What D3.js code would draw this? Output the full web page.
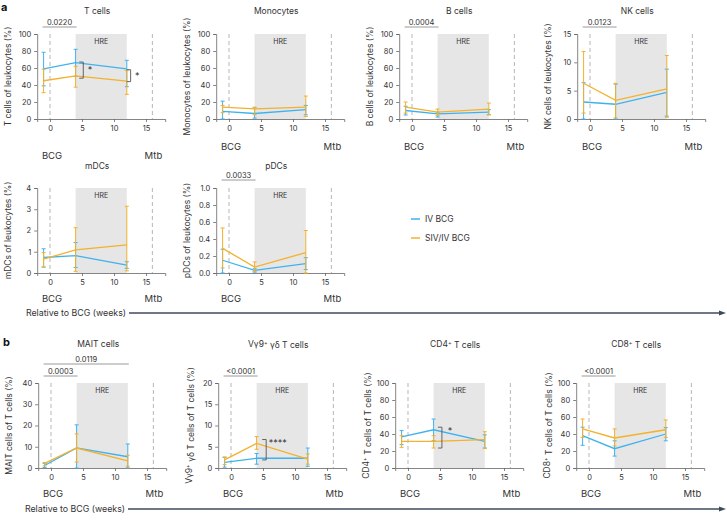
<!DOCTYPE html>
<html><head><meta charset="utf-8">
<script src="https://cdn.jsdelivr.net/npm/d3@7"></script>
<style>body{margin:0;background:#fff;} svg{display:block;font-family:Inter,"Noto Sans",sans-serif;}</style>
</head><body><svg id="c" width="727" height="520"></svg>
<script>
// ---------- data ----------
const weeks = [-1, 4, 12];
const xTicks = [0, 5, 10, 15];
const seriesNames = ["IV BCG", "SIV/IV BCG"];
const markerLabels = ["BCG", "Mtb"];
const markerWeeks = [0, 16];
const hreWeeks = [4, 12];

const tIV = [59, 66.4, 59], tIVLo = [39, 50, 38], tIVHi = [78.5, 82, 69];
const tSIV = [45, 50.8, 44.5], tSIVLo = [31, 37.5, 29], tSIVHi = [58.6, 62, 57];

const monoIV = [9, 6.5, 11], monoIVLo = [0, 1, 5], monoIVHi = [21, 13, 16];
const monoSIV = [14, 12, 14], monoSIVLo = [7.5, 5, 3], monoSIVHi = [16, 14, 27];

const bIV = [10, 6, 8], bIVLo = [4.7, 2.3, 5], bIVHi = [15, 8, 11];
const bSIV = [14, 8.2, 11.7], bSIVLo = [7, 4, 5], bSIVHi = [20, 11.7, 18.7];

const nkIV = [3.0, 2.6, 4.7], nkIVLo = [0, 0, 0.5], nkIVHi = [6.4, 6.15, 8.8];
const nkSIV = [6.3, 3.3, 5.3], nkSIVLo = [1.05, 0.2, 0.3], nkSIVHi = [11.9, 6.3, 11.2];

const mdcIV = [0.73, 0.82, 0.37], mdcIVLo = [0.28, 0.26, 0.22], mdcIVHi = [1.14, 1.43, 0.53];
const mdcSIV = [0.65, 1.09, 1.32], mdcSIVLo = [0.28, 0.08, 0.1], mdcSIVHi = [0.96, 2.13, 3.14];

const pdcIV = [0.15, 0.03, 0.11], pdcIVLo = [0, 0.01, 0.04], pdcIVHi = [0.28, 0.05, 0.18];
const pdcSIV = [0.29, 0.07, 0.24], pdcSIVLo = [0.06, 0.02, 0.0], pdcSIVHi = [0.53, 0.13, 0.5];

const maitIV = [1.2, 9.5, 5.3], maitIVLo = [0.2, 0, 0], maitIVHi = [2.2, 20.3, 11.3];
const maitSIV = [2.2, 9.4, 3.3], maitSIVLo = [1.0, 2.8, 0.8], maitSIVHi = [2.6, 16, 6];

const gdIV = [1.3, 2.3, 2.3], gdIVLo = [0.2, 0.9, 0.4], gdIVHi = [2.5, 3.4, 4.7];
const gdSIV = [1.9, 5.8, 2.1], gdSIVLo = [0.8, 4.4, 0.9], gdSIVHi = [2.6, 7.4, 3.3];

const cd4IV = [36.5, 45, 31.4], cd4IVLo = [27.5, 32, 23.5], cd4IVHi = [44, 57.6, 39];
const cd4SIV = [31.4, 31.4, 33.3], cd4SIVLo = [24.3, 23.5, 23], cd4SIVHi = [38, 38, 42.7];

const cd8IV = [38, 22.7, 40], cd8IVLo = [26.7, 14, 32], cd8IVHi = [48, 32, 47.5];
const cd8SIV = [45.9, 35.3, 45], cd8SIVLo = [36, 26, 36], cd8SIVHi = [57.6, 46, 56.5];

const ticks100 = [0, 20, 40, 60, 80, 100];
const ticks15 = [0, 5, 10, 15];
const ticks4 = [0, 1, 2, 3, 4];
const ticks1 = [0, 0.2, 0.4, 0.6, 0.8, 1.0];
const ticks40 = [0, 10, 20, 30, 40];
const ticks20 = [0, 5, 10, 15, 20];

// ---------- panels ----------
const panels = [
  {title:"T cells", ylab:"T cells of leukocytes (%)", left:37.2, top:34, ymax:100, yt:ticks100, fmt:"d", markOff:36,
   iv:[tIV,tIVLo,tIVHi], siv:[tSIV,tSIVLo,tSIVHi],
   pv:[{a:-1,b:4,label:"0.0220",ly:27}],
   br:[{w:5.2,y1:67,y2:48,label:"*",lw:5.9,ly:60},{w:12.6,y1:58,y2:44,label:"*",lw:13.3,ly:53}]},
  {title:"Monocytes", ylab:"Monocytes of leukocytes (%)", left:216.2, top:34, ymax:100, yt:ticks100, fmt:"d", markOff:27,
   iv:[monoIV,monoIVLo,monoIVHi], siv:[monoSIV,monoSIVLo,monoSIVHi], pv:[], br:[]},
  {title:"B cells", ylab:"B cells of leukocytes (%)", left:399.2, top:34, ymax:100, yt:ticks100, fmt:"d", markOff:27,
   iv:[bIV,bIVLo,bIVHi], siv:[bSIV,bSIVLo,bSIVHi], pv:[{a:-1,b:4,label:"0.0004",ly:27}], br:[]},
  {title:"NK cells", ylab:"NK cells of leukocytes (%)", left:577.2, top:34, ymax:15, yt:ticks15, fmt:"d", markOff:27,
   iv:[nkIV,nkIVLo,nkIVHi], siv:[nkSIV,nkSIVLo,nkSIVHi], pv:[{a:-1,b:4,label:"0.0123",ly:27}], br:[]},
  {title:"mDCs", ylab:"mDCs of leukocytes (%)", left:37.2, top:188, ymax:4, yt:ticks4, fmt:"d", markOff:25,
   iv:[mdcIV,mdcIVLo,mdcIVHi], siv:[mdcSIV,mdcSIVLo,mdcSIVHi], pv:[], br:[]},
  {title:"pDCs", ylab:"pDCs of leukocytes (%)", left:216.2, top:188, ymax:1, yt:ticks1, fmt:".1f", markOff:25,
   iv:[pdcIV,pdcIVLo,pdcIVHi], siv:[pdcSIV,pdcSIVLo,pdcSIVHi], pv:[{a:-1,b:4,label:"0.0033",ly:180}], br:[]},
  {title:"MAIT cells", ylab:"MAIT cells of T cells (%)", left:38.2, top:383, ymax:40, yt:ticks40, fmt:"d", markOff:25,
   iv:[maitIV,maitIVLo,maitIVHi], siv:[maitSIV,maitSIVLo,maitSIVHi],
   pv:[{a:-1,b:12,label:"0.0119",ly:364},{a:-1,b:4,label:"0.0003",ly:376}], br:[]},
  {title:"Vγ9⁺ γδ T cells", ylab:"Vγ9⁺ γδ T cells of T cells (%)", left:218.2, top:383, ymax:20, yt:ticks20, fmt:"d", markOff:25,
   iv:[gdIV,gdIVLo,gdIVHi], siv:[gdSIV,gdSIVLo,gdSIVHi], pv:[{a:-1,b:4,label:"<0.0001",ly:376}],
   br:[{w:5.5,y1:6.7,y2:1.9,label:"****",lw:5.9,ly:6.4,anchor:"start"}]},
  {title:"CD4⁺ T cells", ylab:"CD4⁺ T cells of T cells (%)", left:395.2, top:383, ymax:100, yt:ticks100, fmt:"d", markOff:25,
   iv:[cd4IV,cd4IVLo,cd4IVHi], siv:[cd4SIV,cd4SIVLo,cd4SIVHi], pv:[],
   br:[{w:5.3,y1:48,y2:23.5,label:"*",lw:6.2,ly:46}]},
  {title:"CD8⁺ T cells", ylab:"CD8⁺ T cells of T cells (%)", left:576.2, top:383, ymax:100, yt:ticks100, fmt:"d", markOff:25,
   iv:[cd8IV,cd8IVLo,cd8IVHi], siv:[cd8SIV,cd8SIVLo,cd8SIVHi], pv:[{a:-1,b:4,label:"<0.0001",ly:376}], br:[]}
];
const titleY = {34:11, 188:166, 383:344};
const colors = ["#3fb2ee", "#f3b12c"];
const W = 128, H = 85;
const svg = d3.select("#c");
const TXT = "#333";

function rich(sel, str, supSize) {
  const parts = str.split("⁺");
  parts.forEach((p, i) => {
    if (i > 0) sel.append("tspan").attr("dy", "-0.45em").attr("font-size", supSize).text("+");
    const t = sel.append("tspan").text(p);
    if (i > 0) t.attr("dy", "0.45em");
  });
}

panels.forEach(p => {
  const x = d3.scaleLinear().domain([-2, 18]).range([p.left, p.left + W]);
  const y = d3.scaleLinear().domain([0, p.ymax]).range([p.top + H, p.top]);
  const g = svg.append("g");
  // HRE
  g.append("rect").attr("x", x(hreWeeks[0])).attr("y", y(p.ymax)).attr("width", x(hreWeeks[1]) - x(hreWeeks[0]))
    .attr("height", y(0) - y(p.ymax)).attr("fill", "#e6e6e6");
  g.append("text").attr("x", (x(hreWeeks[0]) + x(hreWeeks[1])) / 2).attr("y", y(p.ymax) + 10)
    .attr("text-anchor", "middle").attr("font-size", 7).attr("fill", TXT).text("HRE");
  // dashed markers
  markerWeeks.forEach(w => g.append("line").attr("x1", x(w)).attr("x2", x(w)).attr("y1", y(p.ymax)).attr("y2", y(0))
    .attr("stroke", "#bdbdbd").attr("stroke-width", 1.1).attr("stroke-dasharray", "4,3"));
  markerWeeks.forEach((w, i) => g.append("text").attr("x", x(w) + (i === 0 ? 2 : 1)).attr("y", y(0) + p.markOff + 3.5)
    .attr("text-anchor", "middle").attr("font-size", 9.5).attr("fill", TXT).text(markerLabels[i]));
  // axes
  const ya = g.append("g").attr("transform", `translate(${p.left},0)`)
    .call(d3.axisLeft(y).tickValues(p.yt).tickSize(3).tickPadding(3).tickFormat(d3.format(p.fmt)));
  const xa = g.append("g").attr("transform", `translate(0,${p.top + H})`)
    .call(d3.axisBottom(x).tickValues(xTicks).tickSize(3).tickPadding(4).tickFormat(d3.format("d")));
  [ya, xa].forEach(a => {
    a.select(".domain").attr("stroke", "#666").attr("stroke-width", 0.8);
    a.selectAll(".tick line").attr("stroke", "#666").attr("stroke-width", 0.8);
    a.selectAll("text").attr("font-size", 7.5).attr("fill", TXT).attr("font-family", "Inter,'Noto Sans',sans-serif");
  });
  // title
  const tt = g.append("text").attr("x", p.left + W / 2 - 4).attr("y", titleY[p.top] + 3).attr("text-anchor", "middle")
    .attr("font-size", 8.5).attr("fill", TXT);
  rich(tt, p.title, 5.5);
  // y label
  const yl = g.append("text").attr("transform", `translate(${p.left - 29},${p.top + H / 2}) rotate(-90)`)
    .attr("text-anchor", "middle").attr("dy", "0.35em").attr("font-size", 8.5).attr("fill", TXT);
  rich(yl, p.ylab, 5.5);
  // series
  [p.iv, p.siv].forEach((s, si) => {
    const [m, lo, hi] = s;
    const pts = weeks.map((w, i) => ({w, m: m[i], lo: lo[i], hi: hi[i]}));
    pts.forEach(d => {
      const eg = g.append("g").attr("stroke", colors[si]).attr("stroke-width", 1);
      eg.append("line").attr("x1", x(d.w)).attr("x2", x(d.w)).attr("y1", y(d.lo)).attr("y2", y(d.hi));
      [d.lo, d.hi].forEach(v => eg.append("line").attr("x1", x(d.w) - 2).attr("x2", x(d.w) + 2).attr("y1", y(v)).attr("y2", y(v)));
    });
    g.append("path").datum(pts).attr("fill", "none").attr("stroke", colors[si]).attr("stroke-width", 1.3)
      .attr("d", d3.line().x(d => x(d.w)).y(d => y(d.m)));
  });
  // p-value bars
  p.pv.forEach(v => {
    g.append("line").attr("x1", x(v.a) - 1).attr("x2", x(v.b) + 1).attr("y1", v.ly).attr("y2", v.ly)
      .attr("stroke", "#9a9a9a").attr("stroke-width", 1);
    g.append("text").attr("x", (x(v.a) + x(v.b)) / 2).attr("y", v.ly - 2.5).attr("text-anchor", "middle")
      .attr("font-size", 7.5).attr("fill", TXT).text(v.label);
  });
  // brackets
  p.br.forEach(b => {
    const bx = x(b.w);
    g.append("path").attr("fill", "none").attr("stroke", "#555").attr("stroke-width", 0.9)
      .attr("d", `M${bx - 4},${y(b.y1)}H${bx}V${y(b.y2)}H${bx - 4}`);
    g.append("text").attr("x", x(b.lw)).attr("y", y(b.ly) + 5).attr("text-anchor", b.anchor || "start")
      .attr("font-size", 9).attr("fill", TXT).text(b.label);
  });
});

// panel letters
svg.append("text").attr("x", 1).attr("y", 11).attr("font-size", 11).attr("font-weight", "bold").attr("fill", "#111").text("a");
svg.append("text").attr("x", 3).attr("y", 346).attr("font-size", 11).attr("font-weight", "bold").attr("fill", "#111").text("b");

// legend
seriesNames.forEach((n, i) => {
  const ly = 219 + i * 19;
  svg.append("line").attr("x1", 411).attr("x2", 420).attr("y1", ly).attr("y2", ly).attr("stroke", colors[i]).attr("stroke-width", 1.5);
  svg.append("text").attr("x", 425).attr("y", ly).attr("dy", "0.35em").attr("font-size", 8.5).attr("fill", TXT).text(n);
});

// time arrows
[{y: 313, x0: 129}, {y: 509, x0: 128}].forEach(a => {
  svg.append("text").attr("x", a.x0 - 3).attr("y", a.y).attr("dy", "0.35em").attr("text-anchor", "end")
    .attr("font-size", 8.8).attr("fill", TXT).text("Relative to BCG (weeks)");
  svg.append("line").attr("x1", a.x0).attr("x2", 720).attr("y1", a.y).attr("y2", a.y).attr("stroke", "#3c4a5e").attr("stroke-width", 1.3);
  svg.append("path").attr("d", `M726,${a.y}L719,${a.y - 2.5}L719,${a.y + 2.5}Z`).attr("fill", "#3c4a5e");
});
</script></body></html>
